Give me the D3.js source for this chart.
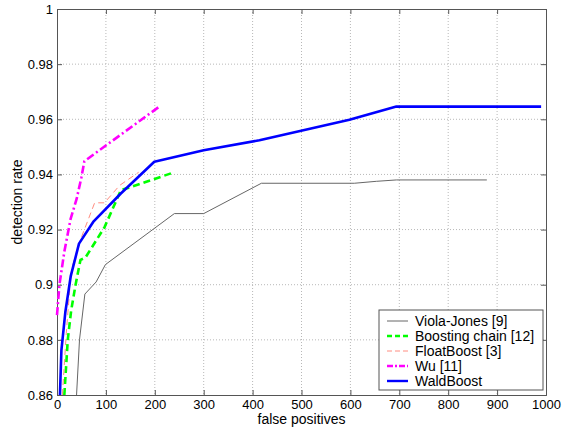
<!DOCTYPE html>
<meta charset="utf-8">
<head>
<script src="https://cdn.jsdelivr.net/npm/d3@7"></script>
<style>
	body { margin: 0; background: #fff; }
	text { font-family: "Liberation Sans", Arial, sans-serif; }
</style>
</head>
<body>
<div id="chart"></div>
<script>

// data
const seriesNames = ['Viola-Jones [9]', 'Boosting chain [12]', 'FloatBoost [3]', 'Wu [11]', 'WaldBoost']

const violaFp = [40, 46, 57, 80, 99, 240, 300, 418, 608, 653, 694, 879]
const violaDr = [0.86, 0.880, 0.8966, 0.901, 0.9073, 0.9258, 0.9258, 0.9368, 0.9368, 0.9375, 0.938, 0.938]

const chainFp = [15, 22, 29, 38, 48, 58, 97, 131, 145, 240]
const chainDr = [0.86, 0.880, 0.8907, 0.900, 0.909, 0.9098, 0.9208, 0.9344, 0.9351, 0.9408]

const floatFp = [11, 19, 28, 32, 46, 77, 97, 128, 167]
const floatDr = [0.86, 0.8824, 0.903, 0.907, 0.9154, 0.9297, 0.9297, 0.936, 0.9408]

const wuFp = [0, 5, 15, 28, 40, 50, 56, 210]
const wuDr = [0.889, 0.9, 0.912, 0.924, 0.931, 0.939, 0.9448, 0.9647]

const waldFp = [6, 9, 17, 28, 45, 75, 130, 199, 300, 414, 598, 694, 990]
const waldDr = [0.86, 0.8762, 0.890, 0.903, 0.9149, 0.923, 0.933, 0.9446, 0.9488, 0.9524, 0.9598, 0.9646, 0.9646]

const xTicks = [0, 100, 200, 300, 400, 500, 600, 700, 800, 900, 1000]
const yTicks = [0.86, 0.88, 0.9, 0.92, 0.94, 0.96, 0.98, 1]

const margin = {top: 9, right: 19, bottom: 34, left: 57},
	W = 565, H = 429,
	width = W - margin.left - margin.right,
	height = H - margin.top - margin.bottom

const styles = [
	{color: '#666666', w: 1, dash: null},
	{color: '#00ff00', w: 2.6, dash: '7,4'},
	{color: '#ff8c80', w: 1, dash: '6,4'},
	{color: '#ff00ff', w: 2.6, dash: '8,3,2,3'},
	{color: '#0000ff', w: 2.6, dash: null}
]

const allFp = [violaFp, chainFp, floatFp, wuFp, waldFp]
const allDr = [violaDr, chainDr, floatDr, wuDr, waldDr]
const series = seriesNames.map((name, i) => ({
	name,
	style: styles[i],
	values: allFp[i].map((fp, j) => ({fp, dr: allDr[i][j]}))
}))

const x = d3.scaleLinear().domain([0, 1000]).range([0, width])
const y = d3.scaleLinear().domain([0.86, 1]).range([height, 0])

const svg = d3.select('#chart').append('svg')
	.attr('width', W)
	.attr('height', H)

const g = svg.append('g')
	.attr('transform', `translate(${margin.left},${margin.top})`)

// grid
g.append('g').selectAll('line')
	.data(xTicks.slice(1, -1))
	.enter().append('line')
	.attr('x1', d => x(d)).attr('x2', d => x(d))
	.attr('y1', 0).attr('y2', height)
	.attr('stroke', '#b8b8b8').attr('stroke-dasharray', '1,2')

g.append('g').selectAll('line')
	.data(yTicks.slice(1, -1))
	.enter().append('line')
	.attr('y1', d => y(d)).attr('y2', d => y(d))
	.attr('x1', 0).attr('x2', width)
	.attr('stroke', '#b8b8b8').attr('stroke-dasharray', '1,2')

// axes (ticks inward, matlab style)
const fmtY = d => d === 1 ? '1' : d3.format('.2~f')(d)

g.append('g')
	.attr('transform', `translate(0,${height})`)
	.call(d3.axisBottom(x).tickValues(xTicks).tickSize(-5).tickPadding(5).tickFormat(d3.format('d')))
g.append('g')
	.call(d3.axisLeft(y).tickValues(yTicks).tickSize(-5).tickPadding(4).tickFormat(fmtY))
g.append('g')
	.call(d3.axisTop(x).tickValues(xTicks).tickSize(-5).tickFormat(''))
g.append('g')
	.attr('transform', `translate(${width},0)`)
	.call(d3.axisRight(y).tickValues(yTicks).tickSize(-5).tickFormat(''))

g.selectAll('.domain').attr('stroke', '#555')
g.selectAll('.tick line').attr('stroke', '#555')
g.selectAll('.tick text').attr('font-size', 13).attr('fill', '#000')
	.style('font-family', '"Liberation Sans", Arial, sans-serif')

// lines
const line = d3.line().x(d => x(d.fp)).y(d => y(d.dr))

g.append('g').selectAll('path')
	.data(series)
	.enter().append('path')
	.attr('d', d => line(d.values))
	.attr('fill', 'none')
	.attr('stroke', d => d.style.color)
	.attr('stroke-width', d => d.style.w)
	.attr('stroke-dasharray', d => d.style.dash)
	.attr('stroke-linejoin', 'round')

// axis labels
svg.append('text')
	.attr('x', margin.left + width / 2)
	.attr('y', 424)
	.attr('text-anchor', 'middle')
	.attr('font-size', 14)
	.text('false positives')

svg.append('text')
	.attr('transform', `translate(22,${margin.top + height / 2}) rotate(-90)`)
	.attr('text-anchor', 'middle')
	.attr('font-size', 14)
	.text('detection rate')

// legend
const legend = svg.append('g')
	.attr('transform', 'translate(379,310)')

legend.append('rect')
	.attr('width', 164).attr('height', 80)
	.attr('fill', '#fff').attr('stroke', '#555')

const items = legend.selectAll('.item')
	.data(series)
	.enter().append('g')
	.attr('transform', (d, i) => `translate(0,${11 + i * 15})`)

items.append('line')
	.attr('x1', 8).attr('x2', 29)
	.attr('stroke', d => d.style.color)
	.attr('stroke-width', d => d.style.w === 1 ? 1 : 2.4)
	.attr('stroke-dasharray', d => d.style.dash ? (d.style.w === 1 ? '5,3' : d.style.dash === '7,4' ? '5,3' : '6,2,2,2') : null)

items.append('text')
	.attr('x', 36).attr('dy', '0.35em')
	.attr('font-size', 14)
	.text(d => d.name)

</script>
</body>
